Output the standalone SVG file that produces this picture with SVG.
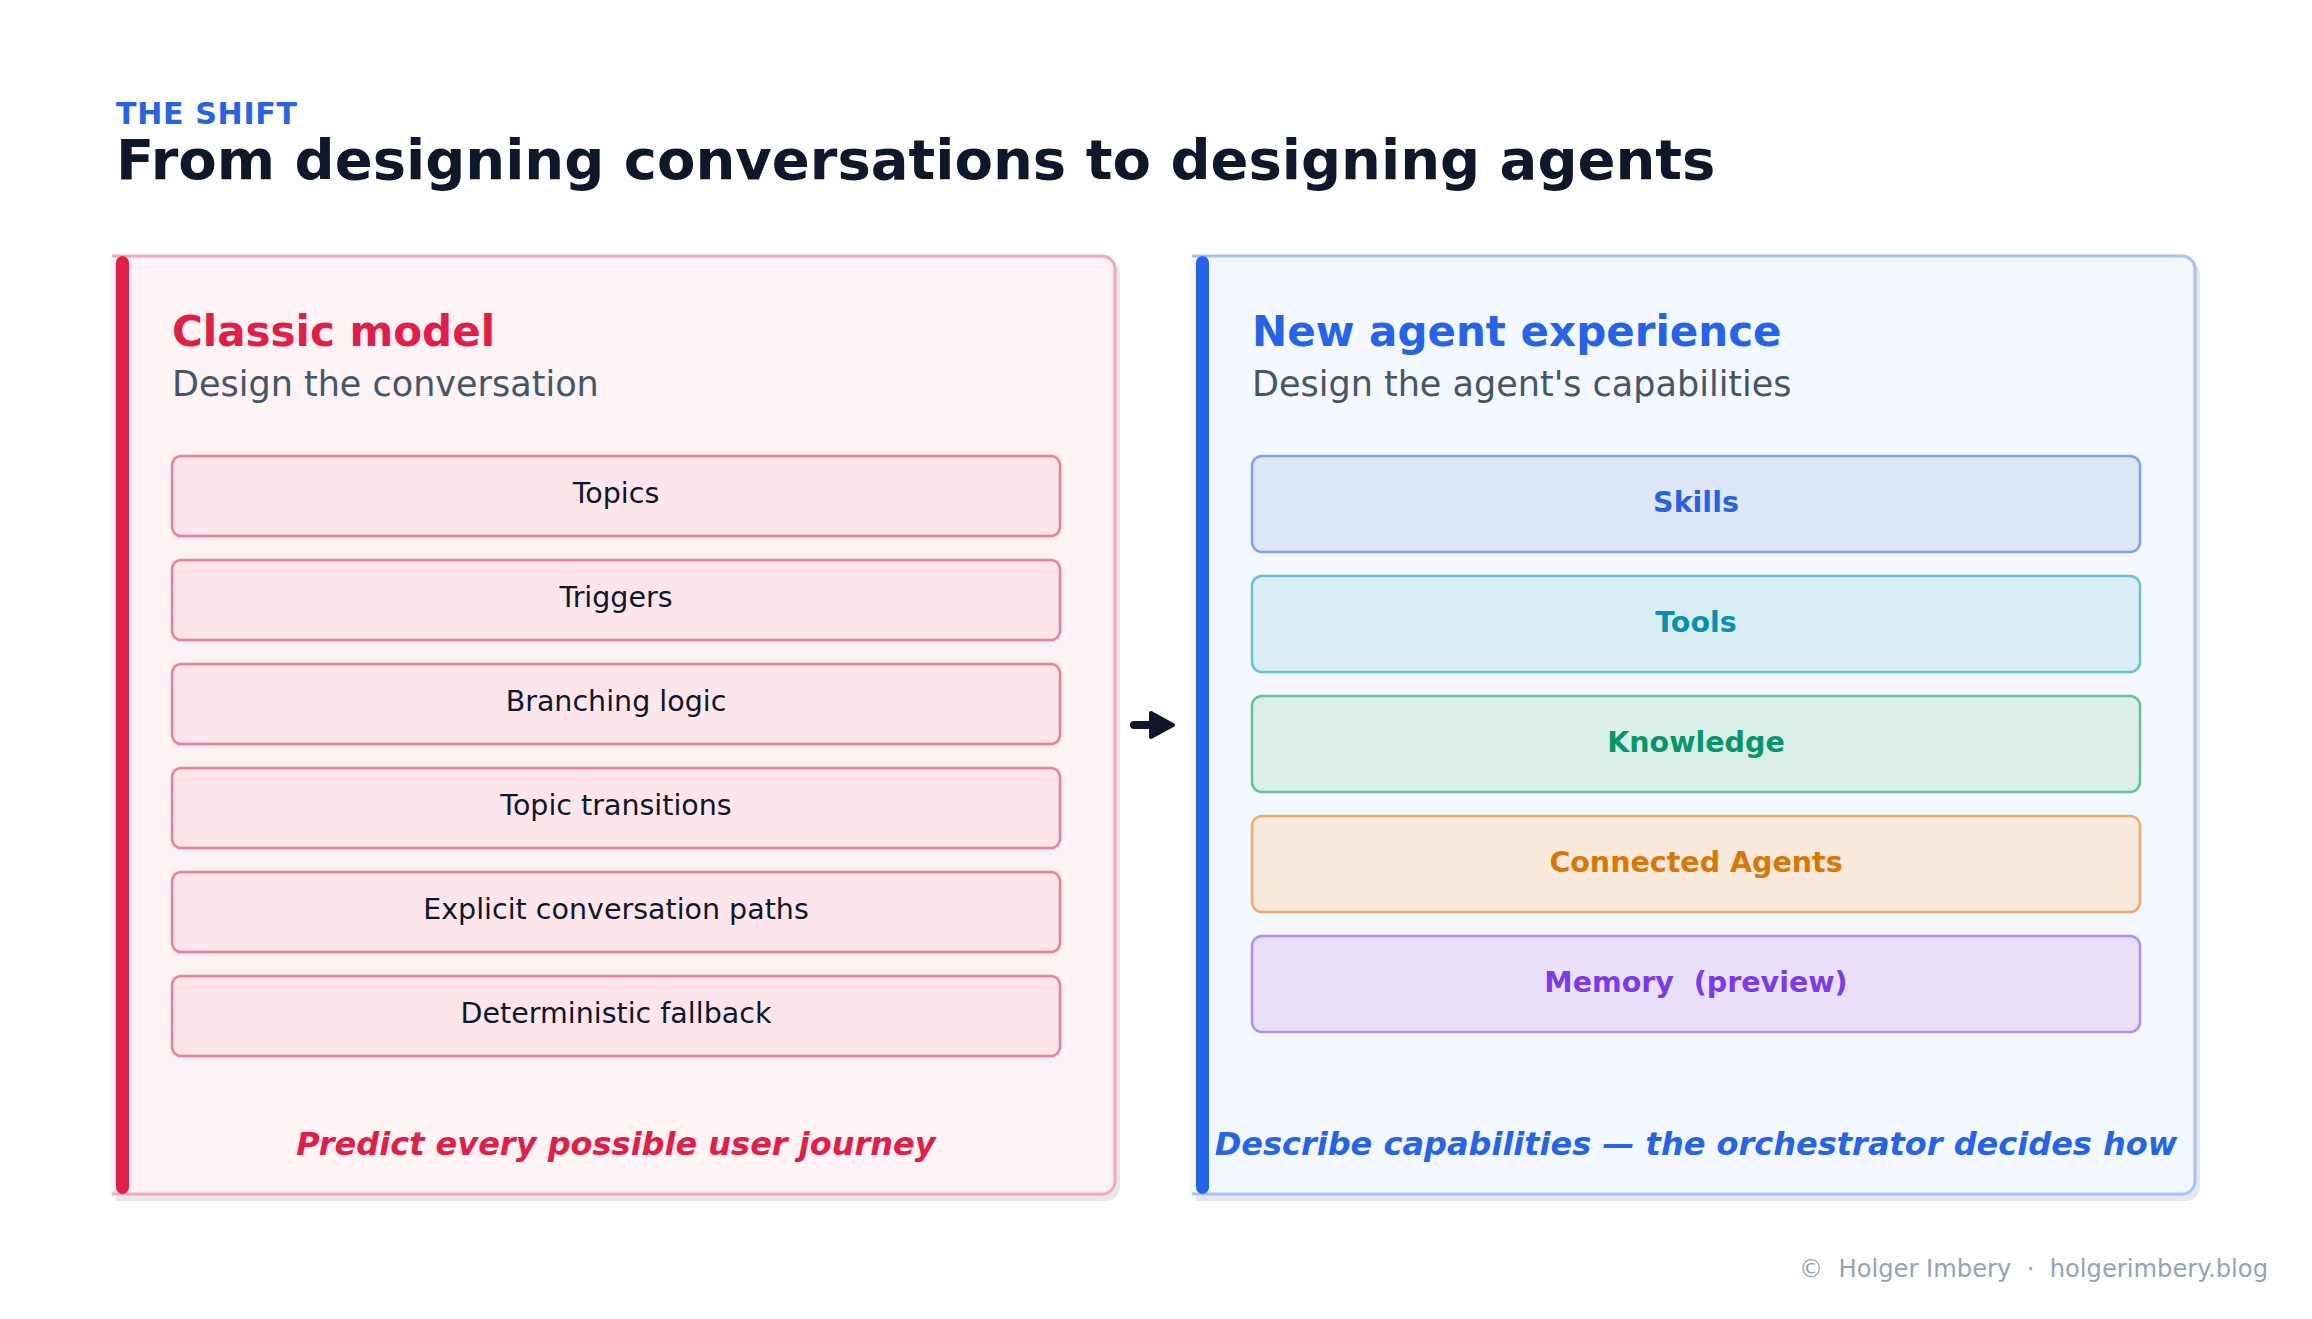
<svg xmlns="http://www.w3.org/2000/svg" width="2312" height="1319" viewBox="0 0 2312 1319">
<style>
text{font-family:"DejaVu Sans","Noto Sans",sans-serif}
.kicker{font-size:30px;font-weight:bold;fill:#2563eb;letter-spacing:0.7px}
.title{font-size:56px;font-weight:bold;fill:#0f172a}
.ptitle{font-size:42px;font-weight:bold}
.psub{font-size:35px;fill:#475569}
.item{font-size:28.5px;fill:#0f172a;text-anchor:middle}
.cap{font-size:28.5px;font-weight:bold;text-anchor:middle;white-space:pre}
.foot{font-size:32px;font-weight:bold;font-style:italic;text-anchor:middle}
.lbox{fill:#fce6eb;stroke:#ef7b96;stroke-width:2.5}
.shadow{fill:#e5e7eb}
.credit{font-size:24.2px;fill:#94a3b8;text-anchor:end;white-space:pre}
</style>
<rect width="2312" height="1319" fill="#ffffff"/>
<text class="kicker" x="116" y="124">THE SHIFT</text>
<text class="title" x="116" y="179">From designing conversations to designing agents</text>

<g id="classic">
<path class="shadow" d="M116,261 H1106 A14,14 0 0 1 1120,275 V1187 A14,14 0 0 1 1106,1201 H116 Z"/>
<path d="M110,255 H1102 A14,14 0 0 1 1116,269 V1181 A14,14 0 0 1 1102,1195 H110 Z" fill="#fdf2f4"/>
<path d="M112,256 H1102 A13,13 0 0 1 1115,269 V1181 A13,13 0 0 1 1102,1194 H112" fill="none" stroke="#f4a7b6" stroke-width="3"/>
<rect x="116" y="256" width="13" height="938" rx="6.5" fill="#e11d48"/>
<text class="ptitle" x="172" y="346" fill="#e11d48">Classic model</text>
<text class="psub" x="172" y="396">Design the conversation</text>
<g id="topics"><rect class="lbox" x="172" y="456" width="888" height="80" rx="9"/><text class="item" x="616" y="503">Topics</text></g>
<g id="triggers"><rect class="lbox" x="172" y="560" width="888" height="80" rx="9"/><text class="item" x="616" y="607">Triggers</text></g>
<g id="branching"><rect class="lbox" x="172" y="664" width="888" height="80" rx="9"/><text class="item" x="616" y="711">Branching logic</text></g>
<g id="transitions"><rect class="lbox" x="172" y="768" width="888" height="80" rx="9"/><text class="item" x="616" y="815">Topic transitions</text></g>
<g id="paths"><rect class="lbox" x="172" y="872" width="888" height="80" rx="9"/><text class="item" x="616" y="919">Explicit conversation paths</text></g>
<g id="fallback"><rect class="lbox" x="172" y="976" width="888" height="80" rx="9"/><text class="item" x="616" y="1023">Deterministic fallback</text></g>
<text class="foot" x="616" y="1155" fill="#e11d48">Predict every possible user journey</text>
</g>

<g id="connectors">
<path d="M1134,725 H1152" stroke="#0f172a" stroke-width="8" stroke-linecap="round" fill="none"/>
<path d="M1151,713 L1173,725 L1151,737 Z" fill="#0f172a" stroke="#0f172a" stroke-width="4" stroke-linejoin="round"/>
</g>

<g id="agent">
<path class="shadow" d="M1196,261 H2186 A14,14 0 0 1 2200,275 V1187 A14,14 0 0 1 2186,1201 H1196 Z"/>
<path d="M1190,255 H2182 A14,14 0 0 1 2196,269 V1181 A14,14 0 0 1 2182,1195 H1190 Z" fill="#f3f7fe"/>
<path d="M1192,256 H2182 A13,13 0 0 1 2195,269 V1181 A13,13 0 0 1 2182,1194 H1192" fill="none" stroke="#a9c1f6" stroke-width="3"/>
<rect x="1196" y="256" width="13" height="938" rx="6.5" fill="#2563eb"/>
<text class="ptitle" x="1252" y="346" fill="#2563eb">New agent experience</text>
<text class="psub" x="1252" y="396">Design the agent's capabilities</text>
<g id="skills"><rect x="1252" y="456" width="888" height="96" rx="10" fill="#dfe7fb" stroke="#7fa2f0" stroke-width="2.5"/><text class="cap" x="1696" y="512" fill="#2563eb">Skills</text></g>
<g id="tools"><rect x="1252" y="576" width="888" height="96" rx="10" fill="#d9eef3" stroke="#6bbfd0" stroke-width="2.5"/><text class="cap" x="1696" y="632" fill="#0891b2">Tools</text></g>
<g id="knowledge"><rect x="1252" y="696" width="888" height="96" rx="10" fill="#d9efe7" stroke="#66c09d" stroke-width="2.5"/><text class="cap" x="1696" y="752" fill="#059669">Knowledge</text></g>
<g id="connected"><rect x="1252" y="816" width="888" height="96" rx="10" fill="#f9e9da" stroke="#ebad6a" stroke-width="2.5"/><text class="cap" x="1696" y="872" fill="#d97706">Connected Agents</text></g>
<g id="memory"><rect x="1252" y="936" width="888" height="96" rx="10" fill="#ebe0fb" stroke="#b28cf1" stroke-width="2.5"/><text class="cap" x="1696" y="992" fill="#7c3aed">Memory  (preview)</text></g>
<text class="foot" x="1696" y="1155" fill="#2563eb">Describe capabilities — the orchestrator decides how</text>
</g>

<text class="credit" x="2268" y="1277">©  Holger Imbery  ·  holgerimbery.blog</text>
</svg>
